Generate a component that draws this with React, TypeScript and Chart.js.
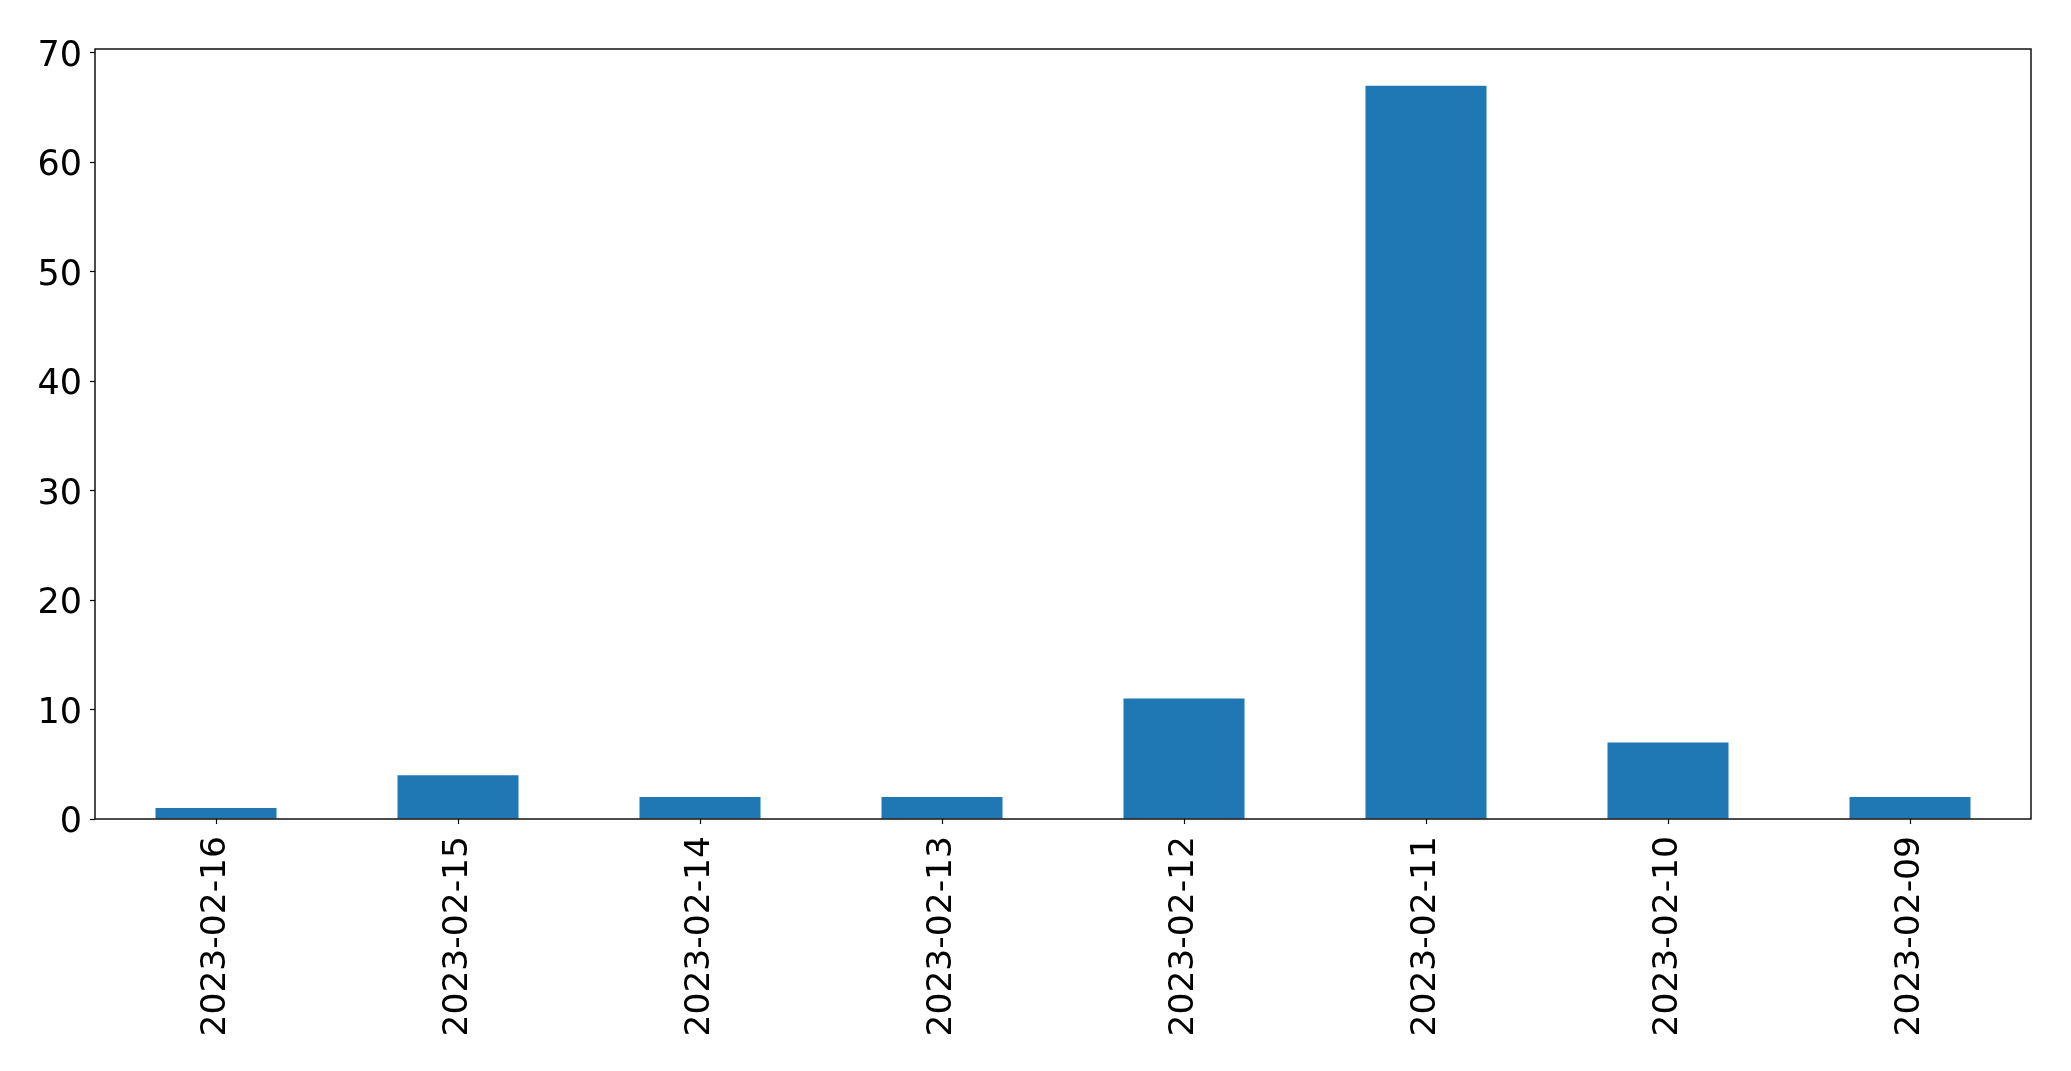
import React, { useEffect, useRef } from "react";
import { Chart, registerables } from "chart.js";

Chart.register(...registerables);

const categories = [
  "2023-02-16",
  "2023-02-15",
  "2023-02-14",
  "2023-02-13",
  "2023-02-12",
  "2023-02-11",
  "2023-02-10",
  "2023-02-09",
];
const counts = [1, 4, 2, 2, 11, 67, 7, 2];
const yMax = 70.35;
const yStep = 10;

const W = 2071;
const H = 1071;
const PLOT_LEFT = 95;
const PLOT_RIGHT = 2031;
const PLOT_TOP = 49;
const PLOT_BOTTOM = 819;
const FONT = "'DejaVu Sans', sans-serif";

const boxPlugin = {
  id: "boxFrame",
  afterDatasetsDraw(chart: any) {
    const { ctx, chartArea } = chart;
    ctx.save();
    ctx.strokeStyle = "#000";
    ctx.lineWidth = 1.4;
    ctx.strokeRect(chartArea.left, chartArea.top, chartArea.right - chartArea.left, chartArea.bottom - chartArea.top);
    ctx.restore();
  },
};

export default function App() {
  const ref = useRef<HTMLCanvasElement | null>(null);
  useEffect(() => {
    document.body.style.margin = "0";
    const canvas = ref.current!;
    const chart = new Chart(canvas, {
      type: "bar",
      data: {
        labels: categories,
        datasets: [
          {
            data: counts,
            backgroundColor: "#1f77b4",
            borderWidth: 0,
            barPercentage: 0.5,
            categoryPercentage: 1.0,
          },
        ],
      },
      options: {
        animation: false,
        responsive: false,
        maintainAspectRatio: false,
        devicePixelRatio: 1,
        layout: {
          padding: { left: 0, right: W - PLOT_RIGHT, top: PLOT_TOP, bottom: 0 },
        },
        plugins: {
          legend: { display: false },
          tooltip: { enabled: false },
        },
        scales: {
          x: {
            offset: true,
            grid: {
              display: true,
              drawOnChartArea: false,
              drawTicks: true,
              tickLength: 5,
              tickWidth: 1.2,
              tickColor: "#000",
              offset: false,
            },
            border: { display: false },
            ticks: {
              color: "#000",
              font: { family: FONT, size: 34.5 },
              maxRotation: 90,
              minRotation: 90,
              padding: 12,
              autoSkip: false,
            },
            afterFit: (scale: any) => {
              scale.height = H - PLOT_BOTTOM;
            },
          },
          y: {
            min: 0,
            max: yMax,
            grid: {
              display: true,
              drawOnChartArea: false,
              drawTicks: true,
              tickLength: 5,
              tickWidth: 1.2,
              tickColor: "#000",
            },
            border: { display: false },
            ticks: {
              stepSize: yStep,
              includeBounds: false,
              color: "#000",
              font: { family: FONT, size: 35 },
              padding: 8,
              labelOffset: 4,
            },
            afterFit: (scale: any) => {
              scale.width = PLOT_LEFT;
            },
          },
        },
      },
      plugins: [boxPlugin],
    });
    return () => chart.destroy();
  }, []);
  return (
    <div style={{ position: "absolute", left: 0, top: 0, width: W, height: H, background: "#fff" }}>
      <canvas ref={ref} width={W} height={H} style={{ width: W, height: H, display: "block" }} />
    </div>
  );
}
